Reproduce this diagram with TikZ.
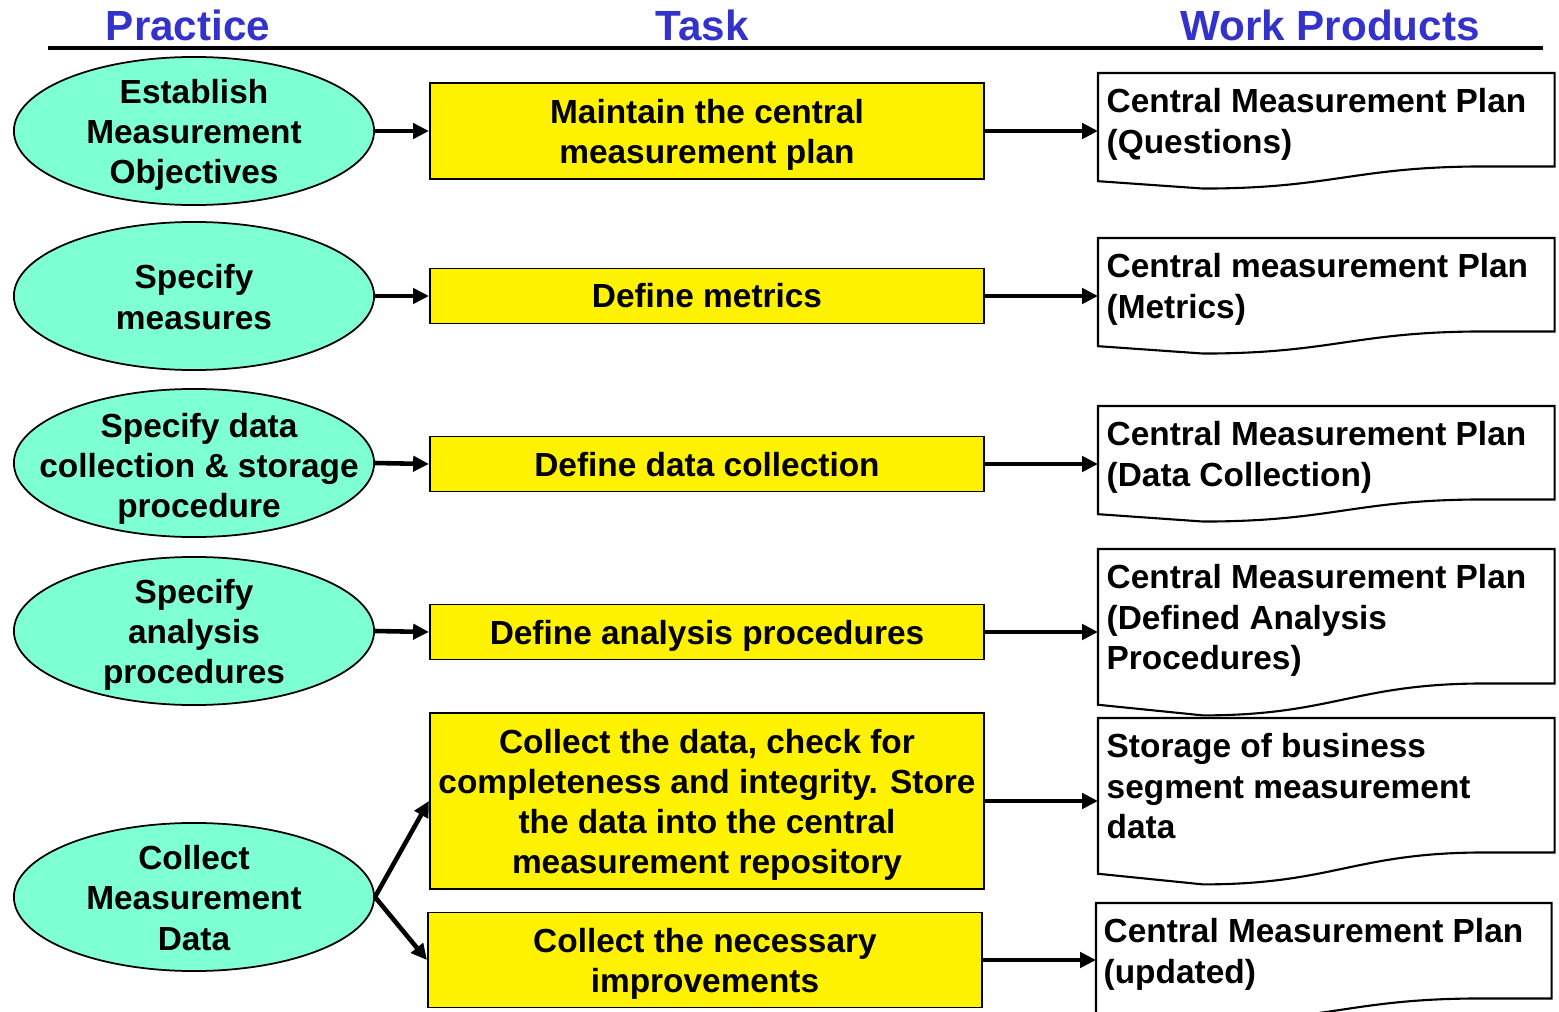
\documentclass[tikz,border=0pt]{standalone}
\usepackage{fontspec}
\setmainfont{Liberation Sans}
\usetikzlibrary{shapes.geometric,arrows.meta,calc}

\definecolor{headblue}{RGB}{51,51,204}
\definecolor{practicegreen}{RGB}{127,255,212}

\tikzset{
  head/.style={font=\fontsize{12pt}{14pt}\selectfont\bfseries, text=headblue},
  practice/.style={ellipse, draw, fill=practicegreen, line width=0.5pt,
    minimum width=3.6cm, minimum height=1.48cm, inner sep=0pt},
  practicetext/.style={align=center, font=\fontsize{9.5pt}{11.4pt}\selectfont\bfseries},
  task/.style={rectangle, draw, fill=yellow, line width=0.5pt, minimum width=5.54cm,
    inner sep=0pt},
  tasktext/.style={align=center, font=\fontsize{9.5pt}{11.4pt}\selectfont\bfseries},
  workprod/.style={rectangle, anchor=north west, minimum width=4.55cm, inner sep=0pt},
  wptext/.style={anchor=north west, align=left, inner xsep=0.08cm, inner ysep=0.15cm,
    font=\fontsize{9.5pt}{11.4pt}\selectfont\bfseries},
  wpline/.style={line width=0.6pt},
  flow/.style={-{Triangle[length=4.5pt,width=4.3pt]}, line width=1.3pt},
}

\begin{document}
\begin{tikzpicture}[x=0.01cm, y=-0.01cm]
    \useasboundingbox (0,0) rectangle (1559,1012);
    \clip (0,0) rectangle (1559,1012);

    % the column heads
    \node[head] (hpractice) at (188,25) {Practice};
    \node[head] (htask) at (702,25) {Task};
    \node[head] (hwork) at (1330,25) {Work Products};
    \draw[line width=1pt] (48,48) -- (1543,48);

    % the practices
    \node[practice, label={[practicetext, yshift=-1.1pt]center:{Establish\\Measurement\\Objectives}}] (p1) at (194,131) {};
    \node[practice, label={[practicetext, yshift=-0.3pt]center:{Specify\\measures}}] (p2) at (194,296) {};
    \node[practice, label={[practicetext, xshift=0.05cm, yshift=-1.7pt]center:{Specify data\\collection \& storage\\procedure}}] (p3) at (194,463) {};
    \node[practice, label={[practicetext, yshift=-1.1pt]center:{Specify\\analysis\\procedures}}] (p4) at (194,631) {};
    \node[practice, label={[practicetext, yshift=-0.3pt]center:{Collect\\Measurement\\Data}}] (p5) at (194,897) {};

    % the tasks
    \node[task, minimum height=0.96cm, label={[tasktext, yshift=-1.1pt]center:{Maintain the central\\measurement plan}}] (t1) at (707,131) {};
    \node[task, minimum height=0.55cm, label={[tasktext]center:{Define metrics}}] (t2) at (707,296) {};
    \node[task, minimum height=0.55cm, label={[tasktext, yshift=-0.3pt]center:{Define data collection}}] (t3) at (707,464) {};
    \node[task, minimum height=0.55cm, label={[tasktext, yshift=-1.1pt]center:{Define analysis procedures}}] (t4) at (707,632) {};
    \node[task, minimum height=1.76cm, label={[tasktext, yshift=-1.1pt]center:{Collect the data, check for\\completeness and integrity. Store\\the data into the central\\measurement repository}}] (t5) at (707,801) {};
    \node[task, minimum height=0.95cm, label={[tasktext, yshift=-1.1pt]center:{Collect the necessary\\improvements}}] (t6) at (705,960) {};

    % the work products (outline first, then the text in it)
    \node[workprod, minimum height=0.92cm] (d1) at (1098,73) {};
    \node[workprod, minimum height=0.92cm] (d2) at (1098,238) {};
    \node[workprod, minimum height=0.92cm] (d3) at (1098,406) {};
    \node[workprod, minimum height=1.33cm] (d4) at (1098,549) {};
    \node[workprod, minimum height=1.33cm] (d5) at (1098,718) {};
    \node[workprod, minimum height=0.94cm, minimum width=4.54cm] (d6) at (1096,903) {};

    \foreach \d/\h in {d1/92,d2/92,d3/92,d4/133,d5/133,d6/94}
      \draw[wpline] ($(\d.south west)+(0,0.16*\h)$) -- (\d.north west) -- (\d.north east)
        -- (\d.south east) -- ++(-70,0) .. controls +(-130,0) and +(130,0) ..
        ($(\d.south west)+(105,0.24*\h)$) -- cycle;

    \node[wptext] (w1) at (d1.north west) {Central Measurement Plan\\(Questions)};
    \node[wptext] (w2) at (d2.north west) {Central measurement Plan\\(Metrics)};
    \node[wptext] (w3) at (d3.north west) {Central Measurement Plan\\(Data Collection)};
    \node[wptext] (w4) at (d4.north west) {Central Measurement Plan\\(Defined Analysis\\Procedures)};
    \node[wptext] (w5) at (d5.north west) {Storage of business\\segment measurement\\data};
    \node[wptext, inner xsep=0.07cm] (w6) at (d6.north west) {Central Measurement Plan\\(updated)};

    % draw the arrows
    \draw[flow] (p1.east) -- (t1.west);
    \draw[flow] (p2.east) -- (t2.west);
    \draw[flow] (p3.east) -- (t3.west);
    \draw[flow] (p4.east) -- (t4.west);
    \draw[flow] (p5.east) -- (t5.west);
    \draw[flow] (p5.east) -- (t6.west);
    %
    \draw[flow] (t1.east) -- (t1.east -| d1.west);
    \draw[flow] (t2.east) -- (t2.east -| d2.west);
    \draw[flow] (t3.east) -- (t3.east -| d3.west);
    \draw[flow] (t4.east) -- (t4.east -| d4.west);
    \draw[flow] (t5.east) -- (t5.east -| d5.west);
    \draw[flow] (t6.east) -- (t6.east -| d6.west);
\end{tikzpicture}
\end{document}
